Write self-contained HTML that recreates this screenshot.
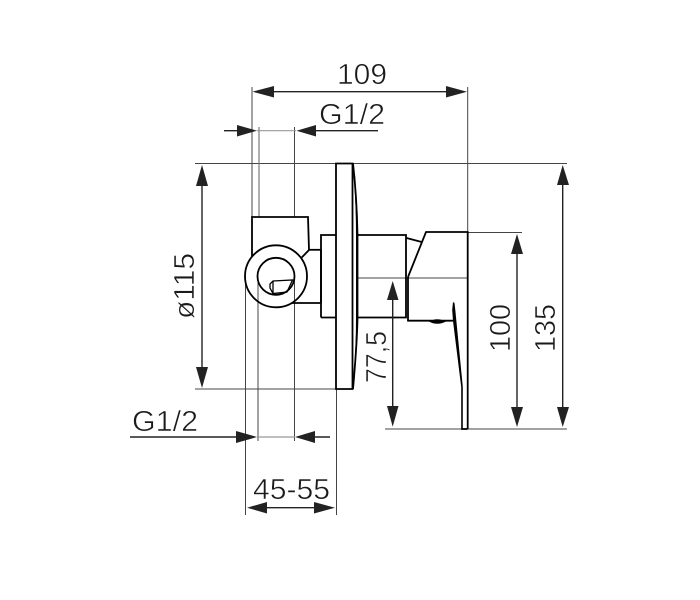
<!DOCTYPE html>
<html>
<head>
<meta charset="utf-8">
<style>
html,body{margin:0;padding:0;background:#fff;width:700px;height:600px;overflow:hidden}
svg{display:block}
text{font-family:"Liberation Sans",sans-serif;font-size:29px;fill:#1a1a1a;stroke:#fff;stroke-width:.55px}
</style>
</head>
<body>
<svg width="700" height="600" viewBox="0 0 700 600" xmlns="http://www.w3.org/2000/svg">
<rect width="700" height="600" fill="#fff"/>
<!-- thin extension lines -->
<g stroke="#444" stroke-width="1" fill="none">
<path d="M195 163.500H567"/>
<path d="M195 389H337"/>
<path d="M385 429H567"/>
<path d="M358 278H468"/>
<path d="M468 232.500H522"/>
<path d="M252 87V217"/>
<path d="M294.500 127V217"/>
<path d="M467.700 87V232"/>
<path d="M245.500 276V515"/>
<path d="M258 276V441"/>
<path d="M294.500 276V441"/>
<path d="M336.500 389V515"/>
</g>
<path d="M259 127V217" stroke="#777" stroke-width="1.200" fill="none"/>
<path d="M257 130.700H296M257 437H295" stroke="#999" stroke-width="1.200" fill="none"/>
<!-- product outline -->
<g stroke="#000" stroke-width="1.800" fill="none" stroke-linejoin="miter">
<path d="M336 389V163.500H352.500V389Z" fill="#fff"/>
<path d="M353 163.500C356 190 357 210 357.500 235V318C357 345 355 365 353 389"/>
<path d="M354.500 175C356 200 356.500 215 356.500 235V318C356.500 340 355.500 360 354 380" stroke-width="1"/>
<path d="M252 256V217H308L309 250L301.700 257.500"/>
<path d="M309 249.800H321"/>
<path d="M292 303H321"/>
<path d="M321 250V303"/>
<path d="M321 317.500V235H336M321 317.500H336"/>
<path d="M358 235H406V317.500H358"/>
<path d="M406.500 238L421.700 242"/>
<path d="M408 277L426 232H467.700V429"/>
<path d="M408 277V320.700H453"/>
<circle cx="276" cy="276.300" r="31"/>
<circle cx="276" cy="276.300" r="18.500"/>
<path d="M273 281L292.500 280L287 292L273 293.500L270 288L270 284Z" stroke-width="1.300"/>
<path d="M273 281V293" stroke-width="1.300"/>
</g>
<path d="M453 302L454.500 303L455.500 312L462.800 387V429H461.200V387L453 321L452.200 310Z" fill="#000"/>
<path d="M461.200 429H467.500" stroke="#000" stroke-width="1.800"/>
<path d="M429 321.500Q437 317 446 321.500Q437 326 429 321.500Z" fill="#000"/>
<!-- dimension lines -->
<g stroke="#222" stroke-width="1.400" fill="none">
<path d="M272 91.700H452"/>
<path d="M224 130.700H240"/>
<path d="M314 130.700H378"/>
<path d="M130 437H240"/>
<path d="M312 437H330"/>
<path d="M266 507.700H316"/>
<path d="M202 185V368"/>
<path d="M392.700 298V407"/>
<path d="M517 253V408"/>
<path d="M562.700 184V408"/>
</g>
<!-- arrowheads -->
<g fill="#222">
<path d="M252.500 91.700L274 86V97.500Z"/>
<path d="M467 91.700L446 86V97.500Z"/>
<path d="M257 130.700L237 125V136.500Z"/>
<path d="M296.500 130.700L316 125V136.500Z"/>
<path d="M257 437L236 431V443Z"/>
<path d="M295 437L315 431V443Z"/>
<path d="M247 507.700L267 502V513.500Z"/>
<path d="M335 507.700L314 502V513.500Z"/>
<path d="M202 165L196 186H208Z"/>
<path d="M202 388L196 367H208Z"/>
<path d="M392.700 281L387 300H398.500Z"/>
<path d="M392.700 426.700L387 406H398.500Z"/>
<path d="M517 234L511 254H523Z"/>
<path d="M517 427L511 407H523Z"/>
<path d="M562.700 165L557 185H569Z"/>
<path d="M562.700 427L557 407H569Z"/>
</g>
<!-- labels -->
<text x="337" y="84" textLength="50" lengthAdjust="spacingAndGlyphs">109</text>
<text x="319" y="124" textLength="66" lengthAdjust="spacingAndGlyphs">G1/2</text>
<text x="132" y="431" textLength="66" lengthAdjust="spacingAndGlyphs">G1/2</text>
<text x="253" y="499" textLength="77" lengthAdjust="spacingAndGlyphs">45-55</text>
<text transform="translate(194 319) rotate(-90)" textLength="66" lengthAdjust="spacingAndGlyphs">ø115</text>
<text transform="translate(386 383) rotate(-90)" textLength="52" lengthAdjust="spacingAndGlyphs">77,5</text>
<text transform="translate(510 352) rotate(-90)" textLength="48" lengthAdjust="spacingAndGlyphs">100</text>
<text transform="translate(555 352) rotate(-90)" textLength="48" lengthAdjust="spacingAndGlyphs">135</text>
</svg>
</body>
</html>
